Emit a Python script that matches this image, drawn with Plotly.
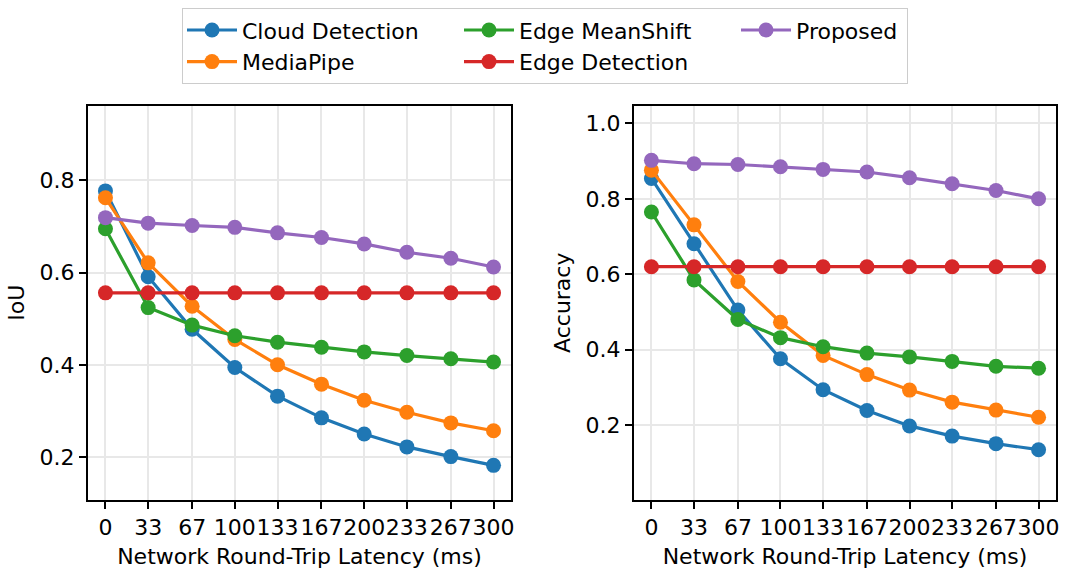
import plotly.graph_objects as go
from plotly.subplots import make_subplots

# Round-trip latency settings (ms) and their tick labels
latency_ms = [0, 33, 67, 100, 133, 167, 200, 233, 267, 300]
tick_labels = ["0", "33", "67", "100", "133", "167", "200", "233", "267", "300"]

methods = ["Cloud Detection", "MediaPipe", "Edge MeanShift", "Edge Detection", "Proposed"]
colors = ["#1f77b4", "#ff7f0e", "#2ca02c", "#d62728", "#9467bd"]
legend_columns = ["col1", "col1", "col2", "col2", "col3"]

# IoU per method
iou_cloud = [0.777, 0.591, 0.477, 0.394, 0.332, 0.285, 0.250, 0.222, 0.201, 0.182]
iou_mediapipe = [0.762, 0.621, 0.527, 0.455, 0.400, 0.358, 0.323, 0.297, 0.274, 0.257]
iou_meanshift = [0.695, 0.524, 0.486, 0.463, 0.449, 0.438, 0.428, 0.420, 0.413, 0.406]
iou_edge = [0.556, 0.556, 0.556, 0.556, 0.556, 0.556, 0.556, 0.556, 0.556, 0.556]
iou_proposed = [0.719, 0.707, 0.702, 0.698, 0.686, 0.676, 0.662, 0.644, 0.631, 0.612]

# Accuracy per method
acc_cloud = [0.854, 0.681, 0.505, 0.376, 0.294, 0.239, 0.198, 0.171, 0.151, 0.135]
acc_mediapipe = [0.876, 0.731, 0.581, 0.473, 0.385, 0.334, 0.293, 0.261, 0.240, 0.221]
acc_meanshift = [0.765, 0.585, 0.480, 0.432, 0.408, 0.391, 0.381, 0.369, 0.356, 0.351]
acc_edge = [0.620, 0.620, 0.620, 0.620, 0.620, 0.620, 0.620, 0.620, 0.620, 0.620]
acc_proposed = [0.902, 0.893, 0.891, 0.885, 0.878, 0.871, 0.856, 0.840, 0.822, 0.800]

iou_series = [iou_cloud, iou_mediapipe, iou_meanshift, iou_edge, iou_proposed]
acc_series = [acc_cloud, acc_mediapipe, acc_meanshift, acc_edge, acc_proposed]

W, H = 1081, 579
FONT = "DejaVu Sans"
FS = 22

fig = make_subplots(rows=1, cols=2)

for col, series_set in ((1, iou_series), (2, acc_series)):
    for name, color, grp, vals in zip(methods, colors, legend_columns, series_set):
        fig.add_trace(
            go.Scatter(
                x=latency_ms, y=vals, name=name, mode="lines+markers",
                line=dict(color=color, width=3.2),
                marker=dict(color=color, size=15),
                legendgroup=grp, showlegend=(col == 1),
                legendwidth=(105 if name == "Proposed" else None),
            ),
            row=1, col=col,
        )

axis_common = dict(
    showline=True, mirror=True, linecolor="#000000", linewidth=2,
    ticks="outside", ticklen=7, tickwidth=1.8, tickcolor="#000000",
    showgrid=True, gridcolor="#e8e8e8", gridwidth=1.8, zeroline=False,
    tickfont=dict(family=FONT, size=FS, color="#000000"),
    automargin=False,
)

xdom1 = [88 / W, 511 / W]
xdom2 = [634 / W, 1056 / W]
ydom = [1 - 499.5 / H, 1 - 106 / H]

fig.update_xaxes(
    **axis_common,
    tickmode="array", tickvals=latency_ms, ticktext=tick_labels, tickangle=0,
    range=[-13.5, 313.5],
    title=dict(text="Network Round-Trip Latency (ms)",
               font=dict(family=FONT, size=FS, color="#000000"), standoff=10),
)
fig.update_xaxes(domain=xdom1, row=1, col=1)
fig.update_xaxes(domain=xdom2, row=1, col=2)

fig.update_yaxes(**axis_common, domain=ydom)
fig.update_yaxes(
    range=[0.108, 0.961], tickvals=[0.2, 0.4, 0.6, 0.8],
    title=dict(text="IoU", font=dict(family=FONT, size=FS, color="#000000"), standoff=9),
    row=1, col=1,
)
fig.update_yaxes(
    range=[0.003, 1.046], tickvals=[0.2, 0.4, 0.6, 0.8, 1.0], tickformat=".1f",
    title=dict(text="Accuracy", font=dict(family=FONT, size=FS, color="#000000"), standoff=9),
    row=1, col=2,
)

fig.update_layout(
    width=W, height=H,
    margin=dict(l=0, r=0, t=0, b=0),
    paper_bgcolor="white", plot_bgcolor="white",
    font=dict(family=FONT, size=FS, color="#000000"),
    legend=dict(
        orientation="h", traceorder="grouped", tracegroupgap=0,
        x=182 / W, xanchor="left", y=1 - 8 / H, yanchor="top",
        entrywidth=212, itemwidth=50,
        font=dict(family=FONT, size=FS, color="#000000"),
        bordercolor="#cccccc", borderwidth=1.2, bgcolor="white",
    ),
)

fig.write_html("out.html")
